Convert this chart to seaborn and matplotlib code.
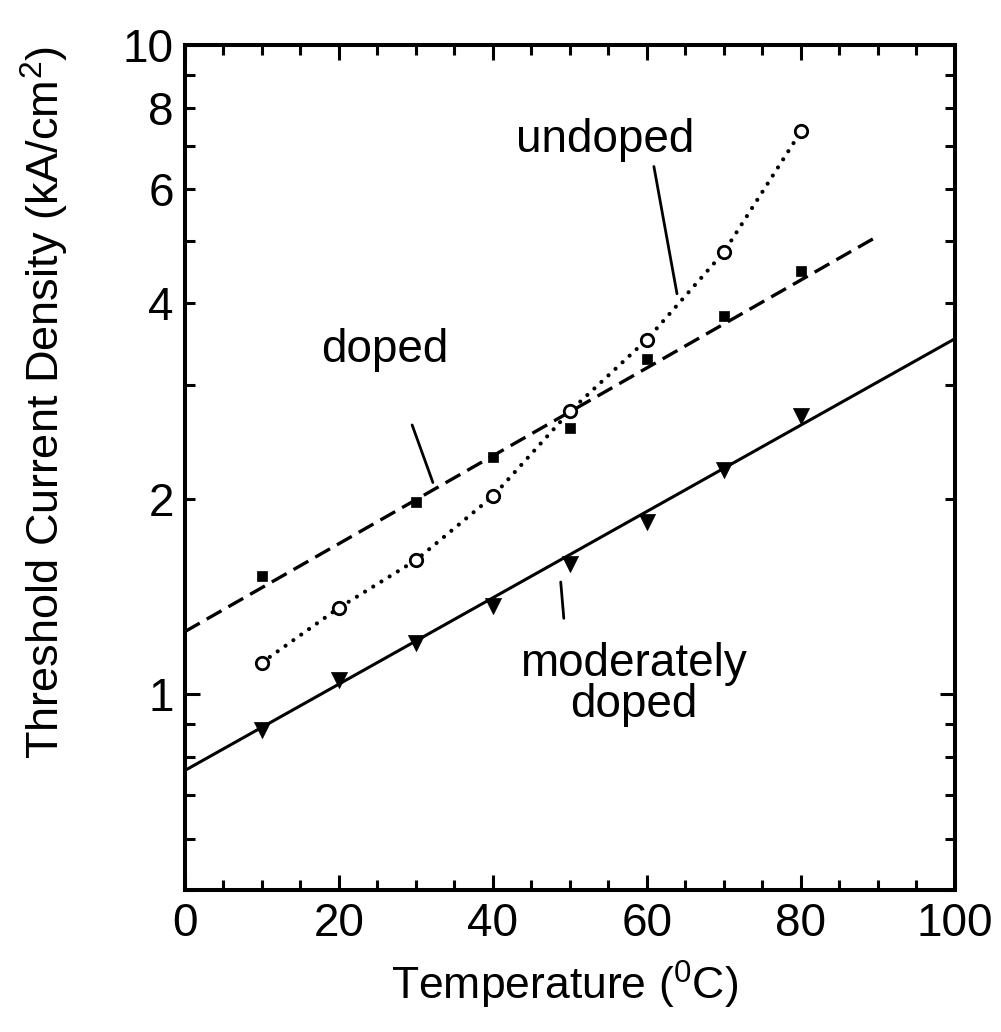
import numpy as np
import pandas as pd
import matplotlib
matplotlib.use("Agg")
import matplotlib.pyplot as plt
import seaborn as sns
from matplotlib.ticker import FixedLocator, FuncFormatter

# ---------------- data ----------------
temp_doped = [10, 30, 40, 50, 60, 70, 80]
jth_doped = [1.52, 1.98, 2.32, 2.57, 3.28, 3.83, 4.49]

temp_undoped = [10, 20, 30, 40, 50, 60, 70, 80]
jth_undoped = [1.12, 1.36, 1.61, 2.02, 2.73, 3.52, 4.80, 7.36]

temp_moderate = [10, 20, 30, 40, 50, 60, 70, 80]
jth_moderate = [0.881, 1.054, 1.20, 1.37, 1.59, 1.84, 2.22, 2.68]

# exponential fit lines (straight on the log axis), end values
fit_doped_temp = [0, 90]
fit_doped_jth = [1.25, 5.08]
fit_moderate_temp = [0, 100]
fit_moderate_jth = [0.764, 3.53]

x_major_ticks = [0, 20, 40, 60, 80, 100]
x_minor_ticks = [5, 10, 15, 25, 30, 35, 45, 50, 55, 65, 70, 75, 85, 90, 95]
y_major_ticks = [1, 10]
y_minor_ticks = [0.5, 0.6, 0.7, 0.8, 0.9, 2, 3, 4, 5, 6, 7, 8, 9]
y_labelled = [1, 2, 4, 6, 8, 10]

x_label = r"Temperature ($^{0}$C)"
y_label = r"Threshold Current Density (kA/cm$^{2}$)"

# annotations: text and its (x, last-line baseline y) position, leader lines
labels_text = ["undoped", "doped", "moderately\ndoped"]
labels_pos = [(54.6, 6.85), (26.0, 3.25), (58.3, 0.922)]
leaders = [((60.9, 6.50), (63.9, 4.14)),
           ((29.5, 2.60), (32.2, 2.12)),
           ((48.8, 1.49), (49.2, 1.31))]

# ---------------- style ----------------
sns.set_theme(style="ticks")
FONT = ["Liberation Sans", "DejaVu Sans"]
plt.rcParams["font.family"] = FONT
plt.rcParams["mathtext.fontset"] = "custom"
plt.rcParams["mathtext.rm"] = "Liberation Sans"
plt.rcParams["mathtext.it"] = "Liberation Sans"
plt.rcParams["mathtext.bf"] = "Liberation Sans"
plt.rcParams["mathtext.default"] = "regular"

TICK_FS = 33
ANNOT_FS = 33
YLAB_FS = 32.5
XLAB_FS = 32

fig = plt.figure(figsize=(10.01, 10.32), dpi=100)
ax = fig.add_axes([0.1848, 0.1376, 0.7692, 0.8188])
ax.set_facecolor("white")
fig.patch.set_facecolor("white")

df_doped = pd.DataFrame({"T": temp_doped, "J": jth_doped})
df_undoped = pd.DataFrame({"T": temp_undoped, "J": jth_undoped})
df_mod = pd.DataFrame({"T": temp_moderate, "J": jth_moderate})
df_fit_doped = pd.DataFrame({"T": fit_doped_temp, "J": fit_doped_jth})
df_fit_mod = pd.DataFrame({"T": fit_moderate_temp, "J": fit_moderate_jth})

# lines
sns.lineplot(data=df_fit_mod, x="T", y="J", ax=ax, color="black",
             linewidth=2.2, linestyle="-")
sns.lineplot(data=df_fit_doped, x="T", y="J", ax=ax, color="black",
             linewidth=2.4, linestyle=(0, (5.1, 2.4)))
sns.lineplot(data=df_undoped, x="T", y="J", ax=ax, color="black",
             linewidth=3.0, linestyle=(0, (0.01, 2.3)),
             dash_capstyle="round")

# markers
sns.scatterplot(data=df_mod, x="T", y="J", ax=ax, marker="v", s=135,
                color="black", edgecolor="black", linewidth=0.5, zorder=5)
sns.scatterplot(data=df_doped, x="T", y="J", ax=ax, marker="s", s=55,
                color="black", edgecolor="black", linewidth=0.5, zorder=5)
sns.scatterplot(data=df_undoped, x="T", y="J", ax=ax, marker="o", s=80,
                facecolor="white", edgecolor="black", linewidth=2.0, zorder=6)

ax.set_yscale("log")
ax.set_xlim(0, 100)
ax.set_ylim(0.5, 10)

ax.xaxis.set_major_locator(FixedLocator(x_major_ticks))
ax.xaxis.set_minor_locator(FixedLocator(x_minor_ticks))
ax.yaxis.set_major_locator(FixedLocator(y_major_ticks))
ax.yaxis.set_minor_locator(FixedLocator(y_minor_ticks))


def yfmt(v, pos):
    for lab in y_labelled:
        if abs(v - lab) < 1e-6:
            return str(lab)
    return ""


ax.yaxis.set_major_formatter(FuncFormatter(yfmt))
ax.yaxis.set_minor_formatter(FuncFormatter(yfmt))
ax.xaxis.set_major_formatter(FuncFormatter(lambda v, p: f"{int(round(v))}"))

ax.tick_params(which="both", direction="in", top=True, right=True,
               color="black", width=2.2, labelsize=TICK_FS,
               labelcolor="black")
ax.tick_params(which="major", length=11)
ax.tick_params(which="minor", length=7)
ax.tick_params(axis="x", which="both", pad=9)
ax.tick_params(axis="y", which="both", pad=8)

for sp in ax.spines.values():
    sp.set_visible(True)
    sp.set_linewidth(2.9)
    sp.set_color("black")

ax.set_xlabel(x_label, fontsize=XLAB_FS, color="black", va="center")
ax.xaxis.set_label_coords(0.4935, -0.1124)
ax.set_ylabel(y_label, fontsize=YLAB_FS, color="black", va="center")
ax.yaxis.set_label_coords(-0.1818, 0.5775)

for txt, (tx, ty) in zip(labels_text, labels_pos):
    ax.text(tx, ty, txt, fontsize=ANNOT_FS, ha="center", va="baseline",
            multialignment="center", linespacing=0.92, color="black")
for (p0, p1) in leaders:
    ax.annotate("", xy=p1, xytext=p0,
                arrowprops=dict(arrowstyle="-", lw=2.0, color="black",
                                shrinkA=0, shrinkB=0))

fig.savefig("out.png", dpi=100, facecolor="white")
